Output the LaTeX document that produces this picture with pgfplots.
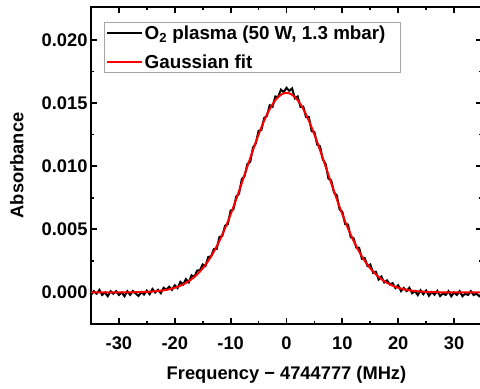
\documentclass[border=0pt]{standalone}
\usepackage{fontspec}
\setmainfont{Liberation Sans}
\usepackage{pgfplots}
\pgfplotsset{compat=1.18}
\usepackage{pgfplotstable}

\pgfplotstableread{
x y
-35 -0.0002
-34.5 0.0001
-34 -0.0001
-33.5 0.0002
-33 -0.0002
-32.5 0
-32 -0.0003
-31.5 0.0001
-31 -0.0001
-30.5 0.0001
-30 -0.0002
-29.5 0
-29 -0.0003
-28.5 0.0001
-28 -0.00019
-27.5 0.000113
-27 -0.000083
-26.5 -0.000278
-26 0.000028
-25.5 -0.000165
-25 0.000145
-24.5 -0.000143
-24 0.000271
-23.5 -0.000011
-23 0.000210
-22.5 -0.000063
-22 0.000368
-21.5 0.000206
-21 0.000452
-20.5 0.000206
-20 0.000571
-19.5 0.000346
-19 0.000834
-18.5 0.000637
-18 0.001056
-17.5 0.000793
-17 0.001350
-16.5 0.001228
-16 0.001731
-15.5 0.001758
-15 0.002213
-14.5 0.002098
-14 0.002812
-13.5 0.002858
-13 0.003436
-12.5 0.003447
-12 0.004392
-11.5 0.004468
-11 0.005277
-10.5 0.005416
-10 0.006483
-9.5 0.006575
-9 0.007589
-8.5 0.007822
-8 0.008967
-7.5 0.009221
-7 0.010177
-6.5 0.010329
-6 0.011471
-5.5 0.011796
-5 0.012797
-4.5 0.012866
-4 0.013798
-3.5 0.013984
-3 0.014821
-2.5 0.014700
-2 0.015518
-1.5 0.015470
-1 0.016052
-0.5 0.015863
0 0.016200
0.5 0.015963
1 0.016152
1.5 0.015370
2 0.015518
2.5 0.014700
3 0.014721
3.5 0.013884
4 0.013898
4.5 0.012766
5 0.012697
5.5 0.011696
6 0.011571
6.5 0.010529
7 0.010177
7.5 0.009021
8 0.008867
8.5 0.007922
9 0.007689
9.5 0.006575
10 0.006383
10.5 0.005416
11 0.005377
11.5 0.004368
12 0.004292
12.5 0.003547
13 0.003536
13.5 0.002658
14 0.002712
14.5 0.002098
15 0.002213
15.5 0.001558
16 0.001631
16.5 0.001028
17 0.001250
17.5 0.000793
18 0.000956
18.5 0.000637
19 0.000734
19.5 0.000346
20 0.000571
20.5 0.000106
21 0.000352
21.5 0.000106
22 0.000368
22.5 -0.000063
23 0.000110
23.5 -0.000211
24 0.000171
24.5 -0.000143
25 0.000145
25.5 -0.000265
26 0.000028
26.5 -0.000178
27 0.000117
27.5 -0.000287
28 -0.00009
28.5 -0.0002
29 0.0001
29.5 -0.0003
30 0
30.5 -0.0002
31 0.0001
31.5 -0.0003
32 -0.0001
32.5 -0.0002
33 0.0001
33.5 -0.0002
34 -0.0001
34.5 -0.0003
35 -0.0001
}\datatable

\pgfplotstableread{
x y
-35 0
-30 0.000001
-28 0.000010
-27 0.000017
-26 0.000028
-25 0.000045
-24 0.000071
-23 0.000110
-22 0.000168
-21 0.000252
-20 0.000371
-19.5 0.000446
-19 0.000534
-18.5 0.000637
-18 0.000756
-17.5 0.000893
-17 0.001050
-16.5 0.001228
-16 0.001431
-15.5 0.001658
-15 0.001913
-14.5 0.002198
-14 0.002512
-13.5 0.002858
-13 0.003236
-12.5 0.003647
-12 0.004092
-11.5 0.004568
-11 0.005077
-10.5 0.005616
-10 0.006183
-9.5 0.006775
-9 0.007389
-8.5 0.008022
-8 0.008667
-7.5 0.009321
-7 0.009977
-6.5 0.010629
-6 0.011271
-5.5 0.011896
-5 0.012497
-4.5 0.013066
-4 0.013598
-3.5 0.014084
-3 0.014521
-2.5 0.014900
-2 0.015218
-1.5 0.015470
-1 0.015652
-0.5 0.015763
0 0.015800
0.5 0.015763
1 0.015652
1.5 0.015470
2 0.015218
2.5 0.014900
3 0.014521
3.5 0.014084
4 0.013598
4.5 0.013066
5 0.012497
5.5 0.011896
6 0.011271
6.5 0.010629
7 0.009977
7.5 0.009321
8 0.008667
8.5 0.008022
9 0.007389
9.5 0.006775
10 0.006183
10.5 0.005616
11 0.005077
11.5 0.004568
12 0.004092
12.5 0.003647
13 0.003236
13.5 0.002858
14 0.002512
14.5 0.002198
15 0.001913
15.5 0.001658
16 0.001431
16.5 0.001228
17 0.001050
17.5 0.000893
18 0.000756
18.5 0.000637
19 0.000534
19.5 0.000446
20 0.000371
21 0.000252
22 0.000168
23 0.000110
24 0.000071
25 0.000045
26 0.000028
27 0.000017
28 0.000010
30 0.000001
35 0
}\fittable

\begin{document}
\begin{tikzpicture}
\begin{axis}[
  scale only axis,
  width=391bp, height=317bp,
  xmin=-35, xmax=35,
  ymin=-0.0025, ymax=0.0226,
  font=\fontsize{18.3bp}{21bp}\selectfont\bfseries,
  /pgf/number format/assume math mode=true,
  xtick={-30,-20,...,30},
  ytick={0,0.005,0.010,0.015,0.020},
  minor x tick num=1,
  minor y tick num=1,
  scaled y ticks=false,
  yticklabel style={/pgf/number format/fixed, /pgf/number format/fixed zerofill, /pgf/number format/precision=3},
  xticklabel style={yshift=-9bp},
  tick align=inside,
  major tick length=6bp,
  minor tick length=3bp,
  every tick/.style={black, line width=1.8bp},
  axis line style={line width=2.4bp},
  xlabel={Frequency \textminus{} 4744777 (MHz)},
  ylabel={Absorbance},
  xlabel style={at={(axis description cs:0.5,-0.161)}, anchor=center},
  ylabel style={at={(axis description cs:-0.19,0.5)}, anchor=center},
  legend style={at={(rel axis cs:0.034,0.952)}, anchor=north west, draw=gray!70, line width=0.8bp, fill=white, inner sep=1bp, row sep=10bp, font=\fontsize{18.8bp}{21bp}\selectfont\bfseries, cells={anchor=west}},
  legend image code/.code={\draw[#1] (2bp,0bp) -- (33bp,0bp); \path (0bp,0bp) -- (35bp,0bp);},
]
\addplot[black, line width=2bp] table[x=x,y=y] {\datatable};
\addlegendentry{O\textsubscript{2} plasma (50 W, 1.3 mbar)\rule{12bp}{0pt}}
\addplot[red, line width=2bp, smooth] table[x=x,y=y] {\fittable};
\addlegendentry{Gaussian fit}
\coordinate (sw) at (rel axis cs:0,0);
\coordinate (ne) at (rel axis cs:1,1);
\end{axis}
\pgfresetboundingbox
\path[use as bounding box] ([shift={(-91bp,-64bp)}]sw) rectangle ([shift={(-2bp,7bp)}]ne);
\end{tikzpicture}
\end{document}
